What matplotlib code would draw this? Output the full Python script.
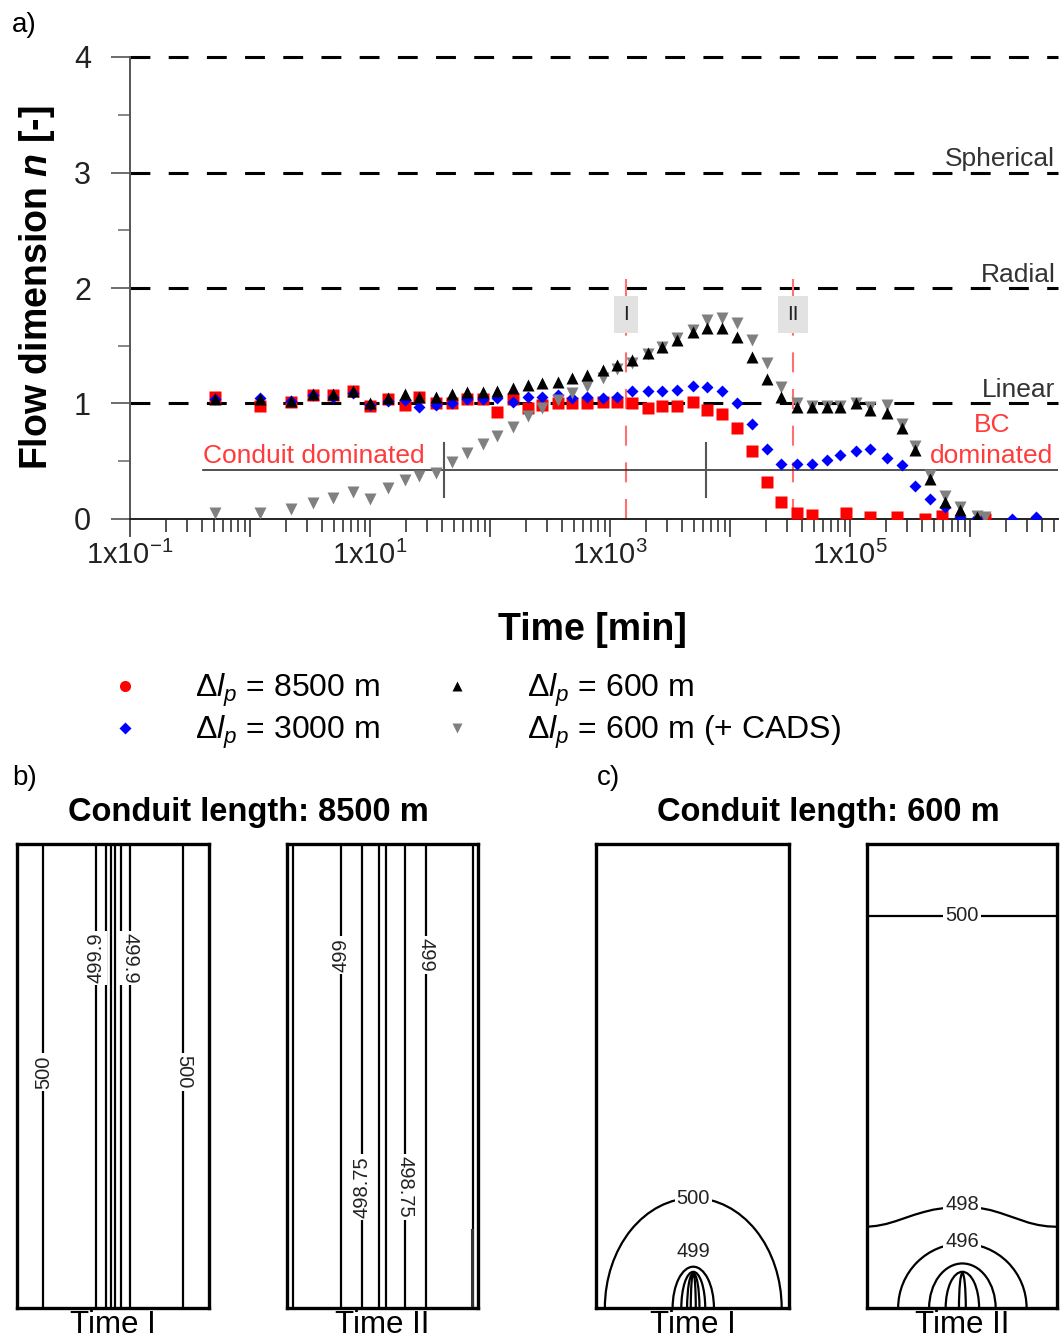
import numpy as np
import matplotlib.pyplot as plt
from matplotlib.lines import Line2D
from matplotlib.patches import Arc
from matplotlib.ticker import FixedLocator, FixedFormatter, LogLocator, NullFormatter

plt.rcParams['font.family'] = ['Liberation Sans', 'DejaVu Sans']
plt.rcParams['mathtext.fontset'] = 'custom'
plt.rcParams['mathtext.rm'] = 'Liberation Sans'
plt.rcParams['mathtext.it'] = 'Liberation Sans:italic'
plt.rcParams['mathtext.bf'] = 'Liberation Sans:bold'
plt.rcParams['mathtext.bfit'] = 'Liberation Sans:italic:bold'

# ---- data, panel a (time in min, flow dimension n) ----
t_early = [0.51, 1.21, 2.2, 3.35, 4.9, 7.2, 10, 14.1, 19.5, 25.7, 35.5, 48,
           64, 88, 115, 155, 208, 271, 368, 482, 645, 870, 1140, 1530,
           2070, 2710, 3600, 4920, 6430, 8580, 11400, 15200, 20400, 26700,
           36400, 47700]

t_8500 = t_early + [92600, 147000, 246000, 422000, 585000, 1340000]
n_8500 = [1.06, 0.98, 1.01, 1.07, 1.07, 1.11, 0.98, 1.04, 0.99, 1.06, 1.00, 1.00,
          1.04, 1.04, 0.93, 1.04, 0.96, 0.99, 1.00, 1.00, 1.00, 1.01, 1.01, 1.00,
          0.96, 0.98, 0.98, 1.01, 0.94, 0.91, 0.79, 0.59, 0.32, 0.15, 0.05, 0.035,
          0.05, 0.02, 0.02, 0.00, 0.03, 0.00]

t_3000 = t_early + [64600, 83000, 112000, 147000, 204000, 272000, 350000,
                    465000, 620000, 830000, 1150000, 2240000, 3560000]
n_3000 = [1.04, 1.05, 1.02, 1.07, 1.06, 1.09, 0.99, 1.02, 1.03, 0.97, 0.99, 1.00,
          1.04, 1.04, 1.05, 1.01, 1.06, 1.06, 1.07, 1.05, 1.06, 1.05, 1.06, 1.11,
          1.11, 1.11, 1.12, 1.15, 1.14, 1.11, 1.00, 0.82, 0.61, 0.48, 0.48, 0.48,
          0.51, 0.55, 0.59, 0.61, 0.53, 0.47, 0.29, 0.17, 0.10, 0.02, 0.01, 0.00, 0.02]

t_600 = t_early + [64600, 83000, 112000, 147000, 204000, 272000, 350000,
                   465000, 620000, 830000, 1150000]
n_600 = [1.04, 1.04, 1.02, 1.08, 1.08, 1.11, 1.00, 1.05, 1.08, 1.06, 1.06, 1.08,
         1.10, 1.10, 1.11, 1.13, 1.16, 1.18, 1.19, 1.22, 1.25, 1.29, 1.33, 1.38,
         1.44, 1.49, 1.55, 1.62, 1.65, 1.65, 1.58, 1.40, 1.21, 1.06, 0.97, 0.97,
         0.97, 0.97, 1.00, 0.94, 0.92, 0.79, 0.60, 0.35, 0.15, 0.08, 0.02]

t_cads = t_600 + [1340000]
n_cads = [0.05, 0.05, 0.09, 0.14, 0.18, 0.235, 0.17, 0.27, 0.34, 0.37, 0.40, 0.49,
          0.57, 0.65, 0.72, 0.80, 0.89, 0.96, 1.03, 1.09, 1.15, 1.22, 1.30, 1.35,
          1.43, 1.49, 1.57, 1.64, 1.72, 1.74, 1.70, 1.55, 1.35, 1.14, 1.00, 0.98,
          0.98, 0.98, 1.00, 0.97, 0.99, 0.82, 0.63, 0.38, 0.20, 0.10, 0.03, 0.02]

regimes = [1, 2, 3, 4]
regime_names = {1: 'Linear', 2: 'Radial', 3: 'Spherical'}
t_marks = [1360, 33500]           # Time I, Time II
mark_names = ['I', 'II']
t_split = [41.4, 6310]            # short vertical ticks on separator
n_split = 0.42
t_min, t_max = 0.1, 5.4e6

# ---- data, panels b/c (contour positions as fractions of the panel) ----
b1_x = [0.138, 0.409, 0.461, 0.487, 0.508, 0.542, 0.591, 0.867]
b2_x = [0.033, 0.281, 0.391, 0.483, 0.518, 0.618, 0.728, 0.976]
b2_edge = (0.968, 0.168)          # short contour piece near the right wall
c1_arcs = [(0.458, 0.237), (0.107, 0.089), (0.062, 0.078), (0.032, 0.075), (0.013, 0.075)]
c2_arcs = [(0.338, 0.139), (0.175, 0.096), (0.088, 0.078), (0.018, 0.075)]
c2_wave_x = [0.0, 0.05, 0.1, 0.15, 0.2, 0.25, 0.3, 0.35, 0.4, 0.45, 0.5,
             0.55, 0.6, 0.65, 0.7, 0.75, 0.8, 0.85, 0.9, 0.95, 1.0]
c2_wave_y = [0.175, 0.177, 0.181, 0.187, 0.194, 0.201, 0.207, 0.212, 0.215, 0.217, 0.218,
             0.217, 0.215, 0.211, 0.205, 0.198, 0.191, 0.184, 0.179, 0.176, 0.175]
c2_top = 0.845

W, H = 1064, 1342
fig = plt.figure(figsize=(W / 100, H / 100), dpi=100)

def fx(px):
    return px / W

def fy(py):
    return 1 - py / H

ax = fig.add_axes([fx(130), fy(519), fx(1058 - 130), (519 - 57) / H])
ax.set_xscale('log')
ax.set_xlim(t_min, t_max)
ax.set_ylim(0, 4)

for s in ['top', 'right']:
    ax.spines[s].set_visible(False)
ax.spines['left'].set_color('#555555')
ax.spines['bottom'].set_color('#222222')
ax.spines['left'].set_linewidth(1.4)
ax.spines['bottom'].set_linewidth(1.4)

ax.xaxis.set_major_locator(FixedLocator([10.0 ** k for k in range(-1, 7)]))
ax.xaxis.set_major_formatter(FixedFormatter(
    [r'1x10$^{\mathrm{-1}}$', '', r'1x10$^{1}$', '', r'1x10$^{3}$', '', r'1x10$^{5}$', '']))
ax.xaxis.set_minor_locator(LogLocator(base=10, subs=np.arange(2, 10), numticks=20))
ax.xaxis.set_minor_formatter(NullFormatter())
ax.tick_params(axis='x', which='major', direction='out', length=13, width=1.1,
               labelsize=21, pad=3, colors='#222222')
ax.tick_params(axis='x', which='minor', direction='out', length=9, width=1.1, colors='#222222')
ax.set_yticks([0, 1, 2, 3, 4])
ax.set_yticks([0.5, 1.5, 2.5, 3.5], minor=True)
ax.tick_params(axis='y', which='major', direction='out', length=14, width=1.1,
               labelsize=22, pad=14, colors='#444444', labelcolor='#222222')
ax.tick_params(axis='y', which='minor', direction='out', length=9, width=1.1, colors='#666666')

for r in regimes:
    ax.axhline(r, color='black', lw=2.2, dashes=(6.5, 6), clip_on=False, zorder=1)
for r, name in regime_names.items():
    ax.text(10 ** 6.71, r + 0.055, name, ha='right', va='baseline', fontsize=19, color='#333333')

for t, name in zip(t_marks, mark_names):
    ax.plot([t, t], [0, 2.17], color='#ff7070', lw=1.5, dashes=(9.6, 8), zorder=1)
    ax.text(t, 1.77, name, ha='center', va='center', fontsize=15, color='#222222', zorder=7,
            bbox=dict(facecolor='#e2e2e2', edgecolor='none', boxstyle='square,pad=0.45'))

ax.plot([0.405, t_max], [n_split, n_split], color='#333333', lw=1.2, zorder=1)
for t in t_split:
    ax.plot([t, t], [0.19, 0.66], color='#555555', lw=1.5, zorder=1)

ax.text(0.405, n_split + 0.02, 'Conduit dominated', ha='left', va='bottom',
        fontsize=19, color='#ff3b3b')
ax.text(10 ** 6.18, 0.81, 'BC', ha='center', va='center', fontsize=19, color='#ff3b3b')
ax.text(10 ** 6.18, 0.545, 'dominated', ha='center', va='center', fontsize=19, color='#ff3b3b')

ax.plot(t_8500, n_8500, ls='none', marker='s', ms=8.5, color='#ff0000', mec='none', zorder=3)
ax.plot(t_3000, n_3000, ls='none', marker='D', ms=6.5, color='#0000ff', mec='none', zorder=4)
ax.plot(t_cads, n_cads, ls='none', marker='v', ms=8, color='#808080', mec='none', zorder=5)
ax.plot(t_600, n_600, ls='none', marker='^', ms=8, color='#000000', mec='none', zorder=6)

fig.text(fx(592), fy(630), 'Time [min]', ha='center', va='center', fontsize=27, fontweight='bold')
fig.text(fx(37), fy(288), r'Flow dimension $\mathbfit{n}$ [-]', ha='center', va='center',
         rotation=90, fontsize=27, fontweight='bold')

handles = [
    Line2D([], [], ls='none', marker='o', ms=8, color='#ff0000', mec='none'),
    Line2D([], [], ls='none', marker='D', ms=6.5, color='#0000ff', mec='none'),
    Line2D([], [], ls='none', marker='^', ms=7, color='#000000', mec='none'),
    Line2D([], [], ls='none', marker='v', ms=7, color='#808080', mec='none'),
]
labels = ['Δ$l_p$ = 8500 m', 'Δ$l_p$ = 3000 m', 'Δ$l_p$ = 600 m', 'Δ$l_p$ = 600 m (+ CADS)']
fig.legend(handles, labels, loc='upper left', bbox_to_anchor=(fx(109), fy(672)), ncol=2,
           frameon=False, fontsize=23, handlelength=1.0, handletextpad=1.69,
           columnspacing=1.9, labelspacing=0.15, borderpad=0, borderaxespad=0)

fig.text(fx(12), fy(25), 'a)', ha='left', va='center', fontsize=20)
fig.text(fx(12), fy(778), 'b)', ha='left', va='center', fontsize=20)
fig.text(fx(597), fy(778), 'c)', ha='left', va='center', fontsize=20)
fig.text(fx(248), fy(813), 'Conduit length: 8500 m', ha='center', va='center',
         fontsize=23.5, fontweight='bold')
fig.text(fx(828), fy(813), 'Conduit length: 600 m', ha='center', va='center',
         fontsize=23.5, fontweight='bold')

def panel(left, width, title):
    a = fig.add_axes([fx(left), fy(1308), fx(width), 464 / H])
    a.set_xlim(0, 1)
    a.set_ylim(0, 1)
    a.set_xticks([])
    a.set_yticks([])
    for s in a.spines.values():
        s.set_linewidth(2.4)
    fig.text(fx(left + width / 2), fy(1325), title, ha='center', va='center', fontsize=22.5)
    return a

lab_kw = dict(fontsize=14.5, ha='center', va='center', color='#222222',
              bbox=dict(facecolor='white', edgecolor='none', pad=1.5))

b1 = panel(17, 192, 'Time I')
for x in b1_x:
    b1.axvline(x, color='black', lw=1.6)
b1.text(b1_x[0], 0.509, '500', rotation=90, **lab_kw)
b1.text(b1_x[1], 0.754, '499.9', rotation=90, **lab_kw)
b1.text(b1_x[6], 0.754, '499.9', rotation=-90, **lab_kw)
b1.text(b1_x[7], 0.509, '500', rotation=-90, **lab_kw)

b2 = panel(287, 191, 'Time II')
for x in b2_x:
    b2.axvline(x, color='black', lw=1.6)
b2.axvline(b2_edge[0], 0, b2_edge[1], color='#333333', lw=2.2)
b2.text(b2_x[1], 0.761, '499', rotation=90, **lab_kw)
b2.text(b2_x[2], 0.261, '498.75', rotation=90, **lab_kw)
b2.text(b2_x[5], 0.261, '498.75', rotation=-90, **lab_kw)
b2.text(b2_x[6], 0.761, '499', rotation=-90, **lab_kw)

c1 = panel(596, 193, 'Time I')
for hw, h in c1_arcs:
    c1.add_patch(Arc((0.504, 0), 2 * hw, 2 * h, theta1=0, theta2=180, color='black', lw=1.6))
c1.text(0.504, c1_arcs[0][1], '500', **lab_kw)
c1.text(0.504, 0.121, '499', fontsize=14.5, ha='center', va='center', color='#222222')

c2 = panel(867, 190, 'Time II')
c2.axhline(c2_top, color='black', lw=1.6)
c2.plot(c2_wave_x, c2_wave_y, color='black', lw=1.6)
for hw, h in c2_arcs:
    c2.add_patch(Arc((0.502, 0), 2 * hw, 2 * h, theta1=0, theta2=180, color='black', lw=1.6))
c2.text(0.5, c2_top, '500', **lab_kw)
c2.text(0.5, 0.224, '498', **lab_kw)
c2.text(0.5, c2_arcs[0][1] + 0.004, '496', **lab_kw)

fig.savefig('out.png', dpi=100)
